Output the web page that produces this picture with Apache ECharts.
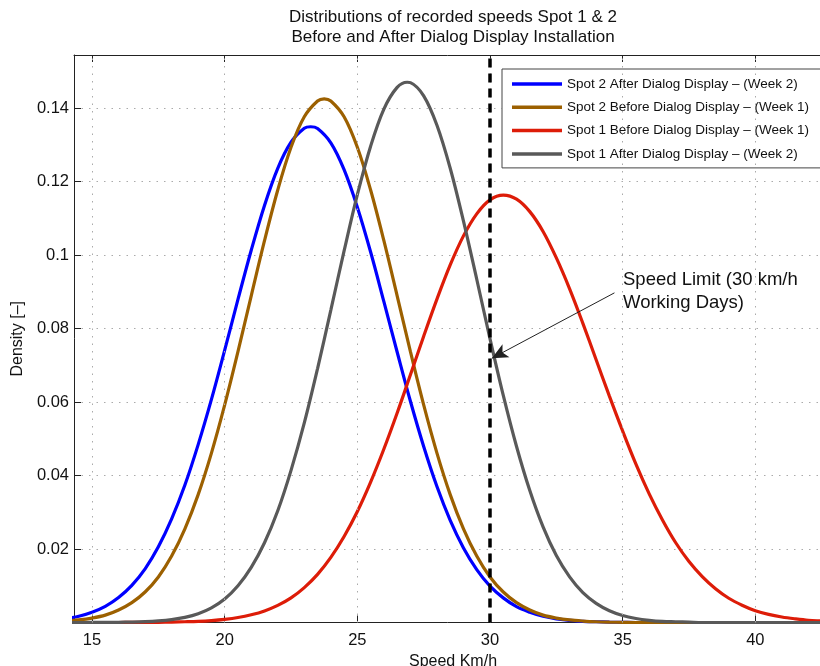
<!DOCTYPE html>
<html>
<head>
<meta charset="utf-8">
<script src="https://cdn.jsdelivr.net/npm/echarts@6/dist/echarts.min.js"></script>
<style>html,body{margin:0;padding:0;background:#fff}#c{width:820px;height:666px}</style>
</head>
<body>
<div id="c"></div>
<script>
// ---- data (speed in km/h, density) ----
var speeds = [14,14.5,15,15.5,16,16.5,17,17.5,18,18.5,19,19.5,20,20.5,21,21.5,22,22.5,23,23.5,24,24.5,25,25.5,26,26.5,27,27.5,28,28.5,29,29.5,30,30.5,31,31.5,32,32.5,33,33.5,34,34.5,35,35.5,36,36.5,37,37.5,38,38.5,39,39.5,40,40.5,41,41.5,42,42.5,43];
var spot2After = [0.0010,0.0017,0.0028,0.0044,0.0068,0.0101,0.0146,0.0206,0.0282,0.0374,0.0484,0.0607,0.0741,0.0879,0.1013,0.1135,0.1236,0.1307,0.1345,0.1344,0.1305,0.1232,0.1130,0.1008,0.0873,0.0736,0.0602,0.0479,0.0370,0.0278,0.0203,0.0144,0.0099,0.0067,0.0043,0.0028,0.0017,0.0010,0.0006,0.0003,0.0002,0.0001,0.00005,0,0,0,0,0,0,0,0,0,0,0,0,0,0,0,0];
var spot2Before = [0.0004,0.0007,0.0012,0.0020,0.0034,0.0054,0.0083,0.0124,0.0181,0.0255,0.0348,0.0461,0.0592,0.0737,0.0889,0.1039,0.1177,0.1293,0.1376,0.1419,0.1419,0.1376,0.1293,0.1177,0.1039,0.0889,0.0737,0.0592,0.0461,0.0348,0.0255,0.0181,0.0124,0.0083,0.0054,0.0034,0.0020,0.0012,0.0007,0.0004,0.0002,0.0001,0.00005,0,0,0,0,0,0,0,0,0,0,0,0,0,0,0,0];
var spot1Before = [0,0,0,0,0,0.00002,0.00003,0.00006,0.00011,0.0002,0.00032,0.00053,0.00086,0.00135,0.0021,0.00315,0.00465,0.0067,0.0095,0.0131,0.0177,0.0234,0.0302,0.0382,0.0472,0.0570,0.0674,0.0779,0.0880,0.0973,0.1052,0.1112,0.1150,0.1163,0.1152,0.1118,0.1064,0.0992,0.0908,0.0814,0.0715,0.0616,0.0521,0.0431,0.0350,0.0279,0.0217,0.0166,0.0125,0.0092,0.0066,0.0047,0.0032,0.0022,0.0015,0.0010,0.0006,0.0004,0.0002];
var spot1After = [0,0,0.00001,0.00003,0.00006,0.00012,0.00023,0.00044,0.0008,0.0014,0.0024,0.0040,0.0064,0.0100,0.0150,0.0217,0.0304,0.0414,0.0543,0.0691,0.0850,0.1011,0.1164,0.1296,0.1397,0.1456,0.1469,0.1433,0.1353,0.1236,0.1092,0.0934,0.0772,0.0618,0.0479,0.0359,0.0260,0.0182,0.0124,0.0081,0.0052,0.0032,0.0019,0.0011,0.0006,0.0003,0.0002,0.0001,0,0,0,0,0,0,0,0,0,0,0];
// peak of each curve (same order as the series)
var peakSpeeds = [23.24, 23.75, 30.5, 26.88];
var peakDensities = [0.1349, 0.1425, 0.1163, 0.1470];
var seriesNames = [
  'Spot 2 After Dialog Display \u2013 (Week 2)',
  'Spot 2 Before Dialog Display \u2013 (Week 1)',
  'Spot 1 Before Dialog Display \u2013 (Week 1)',
  'Spot 1 After Dialog Display \u2013 (Week 2)'
];
var xTicks = [15,20,25,30,35,40];
var yTicks = [0.02,0.04,0.06,0.08,0.1,0.12,0.14];
var speedLimit = 30;
var arrowFrom = [34.69, 0.0897];
var arrowTo = [30.07, 0.0719];
var titleText = 'Distributions of recorded speeds Spot 1 & 2\nBefore and After Dialog Display Installation';
var noteText = 'Speed Limit (30 km/h\nWorking Days)';

var FONT = '"Liberation Sans", Arial, Helvetica, sans-serif';
var colors = ['#0000ff', '#9c6000', '#dd1c08', '#595959'];
var values = [spot2After, spot2Before, spot1Before, spot1After];

function buildData(arr, k){
  var pts = speeds.map(function(s,i){ return [s, arr[i]]; });
  var ps = peakSpeeds[k];
  var exists = pts.some(function(p){ return Math.abs(p[0]-ps) < 1e-9; });
  if (!exists) pts.push([ps, peakDensities[k]]);
  pts.sort(function(a,b){ return a[0]-b[0]; });
  return pts;
}

var XMIN = 14.32, XMAX = 42.89, YMAX = 0.15442;

var series = values.map(function(arr, k){
  return {
    name: seriesNames[k], type: 'line', data: buildData(arr, k), smooth: 0.35,
    symbol: 'none', showSymbol: false, clip: true, z: 3,
    lineStyle: { color: colors[k], width: 3.2 }, itemStyle: { color: colors[k] },
    emphasis: { disabled: true }
  };
});
// vertical dotted grid lines
series.push({
  type: 'line', data: [], z: 1, silent: true,
  markLine: { silent: true, symbol: 'none', animation: false, label: { show: false },
    lineStyle: { color: '#aaaaaa', width: 1, type: [1.5, 6] },
    data: xTicks.map(function(v){ return { xAxis: v }; }) }
});
// speed limit dashed line
series.push({
  type: 'line', data: [], z: 5, silent: true,
  markLine: { silent: true, symbol: 'none', animation: false, label: { show: false },
    lineStyle: { color: '#000000', width: 3.5, type: [9, 6] },
    data: [{ xAxis: speedLimit }] }
});
// annotation arrow
series.push({
  type: 'line', data: [], z: 6, silent: true,
  markLine: { silent: true, symbol: ['none', 'arrow'], symbolSize: [11, 16], animation: false, label: { show: false },
    lineStyle: { color: '#222222', width: 1, type: 'solid' },
    data: [[{ coord: arrowFrom }, { coord: arrowTo }]] }
});

var chart = echarts.init(document.getElementById('c'), null, { renderer: 'canvas' });
chart.setOption({
  animation: false,
  backgroundColor: '#ffffff',
  textStyle: { fontFamily: FONT },
  grid: { left: 74, top: 55, width: 758, height: 567.5, containLabel: false, outerBoundsMode: 'none' },
  legend: {
    data: seriesNames, orient: 'vertical', left: 502, top: 69,
    padding: [7, 30, 6, 10], itemGap: 7.3, itemWidth: 50, itemHeight: 3.5, icon: 'rect',
    borderColor: '#444444', borderWidth: 1, backgroundColor: '#ffffff',
    textStyle: { fontFamily: FONT, fontSize: 13.5, color: '#111111', lineHeight: 16 },
    selectedMode: false
  },
  xAxis: [{
    type: 'value', position: 'bottom', min: XMIN, max: XMAX,
    name: 'Speed Km/h', nameLocation: 'middle', nameGap: 29,
    nameTextStyle: { fontFamily: FONT, fontSize: 16, color: '#111' },
    axisLine: { show: true, onZero: false, lineStyle: { color: '#222', width: 1 } },
    axisTick: { show: true, inside: true, length: 7, customValues: xTicks, lineStyle: { color: '#222' } },
    axisLabel: { show: true, customValues: xTicks, fontFamily: FONT, fontSize: 16.5, color: '#111', margin: 9 },
    splitLine: { show: false }
  }, {
    type: 'value', position: 'top', min: XMIN, max: XMAX,
    axisLine: { show: true, onZero: false, lineStyle: { color: '#222', width: 1 } },
    axisTick: { show: true, inside: true, length: 7, customValues: xTicks, lineStyle: { color: '#222' } },
    axisLabel: { show: false }, splitLine: { show: false }
  }],
  yAxis: [{
    type: 'value', min: 0, max: YMAX, interval: 0.02,
    name: 'Density [\u2013]', nameLocation: 'middle', nameGap: 39,
    nameTextStyle: { fontFamily: FONT, fontSize: 16, color: '#111' },
    axisLine: { show: true, onZero: false, lineStyle: { color: '#222', width: 1 } },
    axisTick: { show: true, inside: true, length: 7, customValues: yTicks, lineStyle: { color: '#222' } },
    axisLabel: { show: true, customValues: yTicks, fontFamily: FONT, fontSize: 16.5, color: '#111', margin: 5,
      formatter: function(v){ return String(+v.toFixed(2)); } },
    splitLine: { show: true, lineStyle: { color: '#aaaaaa', width: 1, type: [1.5, 6] } }
  }],
  graphic: [
    { type: 'text', x: 453, y: 7, z: 10, silent: true,
      style: { text: titleText, textAlign: 'center', fontFamily: FONT, fontSize: 17, lineHeight: 20, fill: '#111' } },
    { type: 'text', x: 623, y: 269, z: 10, silent: true,
      style: { text: noteText, textAlign: 'left', fontFamily: FONT, fontSize: 18.5, lineHeight: 22.5, fill: '#111' } }
  ],
  series: series
});
</script>
</body>
</html>
